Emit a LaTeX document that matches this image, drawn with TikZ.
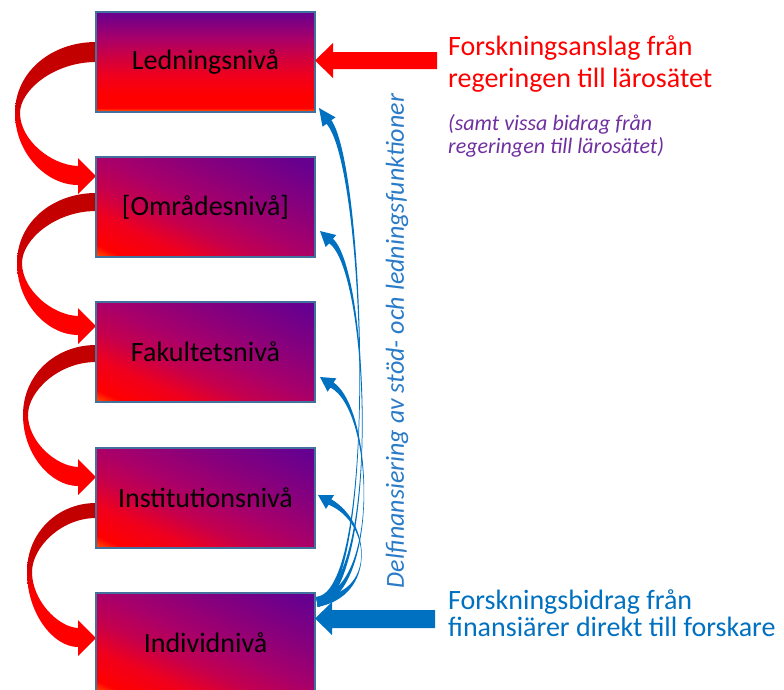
\documentclass[tikz,border=0pt]{standalone}
\usepackage{fontspec}
\setmainfont{Carlito}
\usetikzlibrary{calc}
\pgfdeclarelayer{background}
\pgfsetlayers{background,main}
\definecolor{bordc}{HTML}{41719C}
\definecolor{pptblue}{HTML}{0070C0}
\definecolor{vblue}{HTML}{2A7BC8}
\definecolor{pptpurple}{HTML}{7030A0}
\definecolor{arrdark}{HTML}{C00000}
\definecolor{arrdark2}{HTML}{CC0000}
\definecolor{gorange}{HTML}{FF7A00}
\definecolor{gred}{HTML}{FF0000}
\definecolor{gred2}{HTML}{F0001C}
\definecolor{gcrim}{HTML}{D0003E}
\definecolor{gcrim2}{HTML}{C4004E}
\definecolor{gmag}{HTML}{A8006A}
\definecolor{gmag2}{HTML}{88007C}
\definecolor{gpurp}{HTML}{660090}
\pgfdeclareverticalshading{boxtop}{100bp}{color(0bp)=(gorange); color(25bp)=(gorange); color(27bp)=(gred); color(33bp)=(gred); color(43bp)=(gred2); color(52bp)=(gcrim); color(62bp)=(gmag); color(75bp)=(gpurp); color(100bp)=(gpurp)}
\pgfdeclareverticalshading{boxdiag}{100bp}{color(0bp)=(gorange); color(15bp)=(gorange); color(21bp)=(gred); color(31bp)=(gred2); color(41bp)=(gcrim2); color(51bp)=(gmag); color(64bp)=(gmag2); color(80bp)=(gpurp); color(100bp)=(gpurp)}
\pgfdeclareverticalshading{arrshade}{100bp}{color(0bp)=(gred); color(25bp)=(gred); color(45bp)=(gred); color(55bp)=(arrdark2); color(75bp)=(arrdark); color(100bp)=(arrdark)}
% red curved arrow: #1 source node, #2 ys, #3 w, #4 xl, #5 ym, #6 tip y (local, origin = #1.west)
\newcommand\redcurve[6]{%
\begin{scope}[shift={(#1.west)}]
\shade[shading=arrshade]
 (0,#2) .. controls ({0.55*(#4)},#2) and (#4,{#2+0.42*(#5-(#2))}) .. (#4,#5)
 .. controls (#4,{#5+0.55*(#6+9-(#5))}) and ({0.62*(#4)},{#6+9}) .. (-18,{#6+9})
 -- (-18,{#6+18}) -- (0,#6) -- (-18,{#6-18}) -- (-18,{#6-10})
 .. controls ({0.6*(#4+5)},{#6-11}) and ({#4+5},{#5+0.5*(#6-10-(#5))}) .. ({#4+5},#5)
 .. controls ({#4+5},{#5-0.45*(#5-(#2)-(#3))}) and ({0.55*(#4+5)},{#2+#3}) .. (0,{#2+#3}) -- cycle;
\end{scope}}
% blue tapered curved arrow: #1 start, #2 c1, #3 c2, #4 head base, #5 tip
\newcommand\bluecurve[5]{%
\fill[pptblue] ($#1!5pt!90:#2$) .. controls #2 and #3 .. ($#4!3pt!-90:#3$)
 -- ($#4!8pt!90:#5$) -- #5 -- ($#4!8pt!-90:#5$)
 -- ($#4!3pt!90:#3$) .. controls #3 and #2 .. ($#1!5pt!-90:#2$) -- cycle;}
\tikzset{
 lvl/.style={draw=bordc, line width=2pt, minimum width=219pt, minimum height=100pt,
   inner sep=0pt, outer sep=0pt, shade, shading=boxdiag, shading angle=-24.5,
   font=\fontsize{28}{34}\selectfont, text=black},
 lvltop/.style={lvl, shading=boxtop, shading angle=0},
 redtxt/.style={anchor=base west, inner sep=0pt, text=gred, font=\fontsize{28}{32}\selectfont},
 purptxt/.style={anchor=base west, inner sep=0pt, text=pptpurple, font=\fontsize{22}{23}\selectfont\itshape},
 bluetxt/.style={anchor=base west, inner sep=0pt, text=pptblue, font=\fontsize{28}{32}\selectfont},
 vtxt/.style={inner sep=0pt, text=vblue, rotate=90, font=\fontsize{26}{30}\selectfont\itshape}
}
\begin{document}
\begin{tikzpicture}[x=1pt,y=-1pt]
\useasboundingbox (0,0) rectangle (784,689);
\clip (0,0) rectangle (784,689);
% level boxes
\node[lvltop] (b1) at (205.5,62) {Ledningsnivå};
\node[lvl] (b2) at (205.5,207) {[Områdesnivå]};
\node[lvl] (b3) at (205.5,352) {Fakultetsnivå};
\node[lvl] (b4) at (205.5,498) {Institutionsnivå};
\node[lvl] (b5) at (205.5,643) {Individnivå};
% red curved arrows between levels
\begin{pgfonlayer}{background}
\fill[white] (0,0) rectangle (784,689);
\redcurve{b1}{-20}{20}{-81}{51}{114}
\redcurve{b2}{-14}{18}{-79}{56}{119}
\redcurve{b3}{-7}{17}{-73}{63}{125}
\redcurve{b4}{5}{15}{-69}{74}{140}
\end{pgfonlayer}
% blue curved arrows from individual level
\coordinate (bs) at ($(b5.north east)+(2,9)$);
\bluecurve{(bs)}{(378,592)}{(366,170)}{(329,122)}{($(b1.south east)+(4,-4)$)}
\bluecurve{(bs)}{(380,588)}{(370,272)}{(331,241)}{($(b2.east)+(5,24)$)}
\bluecurve{(bs)}{(380,592)}{(374,410)}{(332,385)}{($(b3.east)+(5,25)$)}
\bluecurve{(bs)}{(376,596)}{(372,523)}{(330,502)}{($(b4.east)+(3,-3)$)}
% straight red arrow into top level
\coordinate (rsrc) at (437,60.5);
\fill[gred] ($(b1.east)+(0,-1.5)$) -- ++(18,-17.5) -- ++(0,9) -- (rsrc |- 0,52) -- (rsrc |- 0,69) -- ++(-104,0) -- ++(0,9) -- cycle;
% straight blue arrow into individual level
\coordinate (bsrc) at (435,618.5);
\fill[pptblue] ($(b5.east)+(0,-24.5)$) -- ++(17,-16.5) -- ++(0,8) -- (bsrc |- 0,610) -- (bsrc |- 0,628) -- ++(-103,0) -- ++(0,7) -- cycle;
% texts
\node[redtxt] (r1) at (448,55) {Forskningsanslag från};
\node[redtxt] (r2) at (448,87) {regeringen till lärosätet};
\node[purptxt] (p1) at (448,130) {(samt vissa bidrag från};
\node[purptxt] (p2) at (448,153) {regeringen till lärosätet)};
\node[bluetxt] (u1) at (448,609) {Forskningsbidrag från};
\node[bluetxt] (u2) at (448,636) {finansiärer direkt till forskare};
\node[vtxt] (vt) at (397,341) {Delfinansiering av stöd- och ledningsfunktioner};
\end{tikzpicture}
\end{document}
